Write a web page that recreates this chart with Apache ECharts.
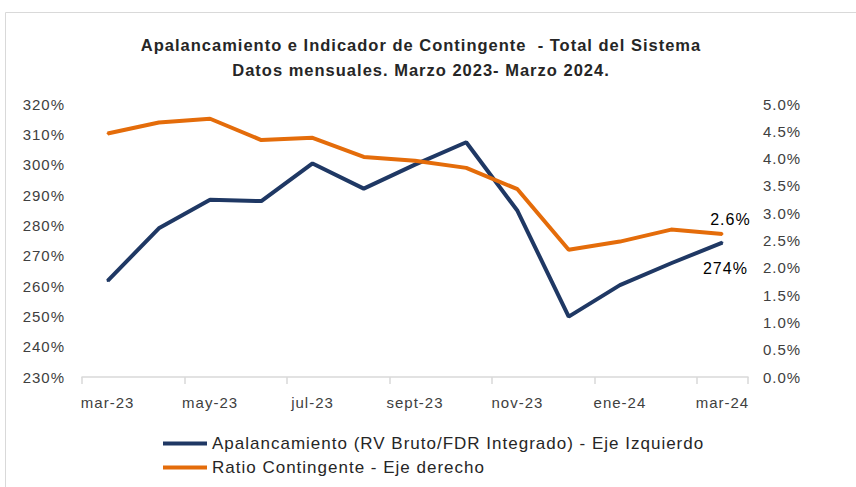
<!DOCTYPE html>
<html>
<head>
<meta charset="utf-8">
<script src="https://cdn.jsdelivr.net/npm/echarts@6/dist/echarts.min.js"></script>
<style>
html,body{margin:0;padding:0;background:#fff;}
#chart{width:856px;height:487px;}
#chart text{letter-spacing:1px;}
</style>
</head>
<body>
<div id="chart"></div>
<script>
const categories = ["mar-23","abr-23","may-23","jun-23","jul-23","ago-23","sept-23","oct-23","nov-23","dic-23","ene-24","feb-24","mar-24"];
const leverage = [261.7,279.0,288.4,288.0,300.4,292.1,300.0,307.4,284.8,249.9,260.3,267.5,274.3];
const contingent = [4.46,4.66,4.73,4.34,4.38,4.03,3.96,3.83,3.44,2.33,2.48,2.70,2.62];
const leftAxisRange = [230, 320, 10];
const rightAxisRange = [0, 5, 0.5];
const seriesNames = ["Apalancamiento (RV Bruto/FDR Integrado) - Eje Izquierdo","Ratio Contingente - Eje derecho"];
const titleLines = ["Apalancamiento e Indicador de Contingente  - Total del Sistema","Datos mensuales. Marzo 2023- Marzo 2024."];

const FONT = "Liberation Sans";
const chart = echarts.init(document.getElementById('chart'), null, {renderer:'svg'});
const lastIdx = categories.length - 1;

const levData = leverage.map((v,i)=> i===lastIdx ? {value:v,label:{show:true,position:'bottom',offset:[3,12],formatter:p=>Math.round(p.value)+'%',fontSize:16,color:'#000',fontFamily:FONT}} : v);
const conData = contingent.map((v,i)=> i===lastIdx ? {value:v,label:{show:true,position:'top',offset:[8,0],formatter:p=>p.value.toFixed(1)+'%',fontSize:16,color:'#000',fontFamily:FONT}} : v);

chart.setOption({
  animation:false,
  textStyle:{fontFamily:FONT},
  graphic:[
    {type:'rect',shape:{x:5.5,y:12.5,width:900,height:600},style:{fill:'none',stroke:'#d9d9d9',lineWidth:1}},
    {type:'text',x:421,y:45,style:{text:titleLines[0],align:'center',verticalAlign:'middle',font:'bold 16.5px "Liberation Sans"',fill:'#262626'}},
    {type:'text',x:421,y:70,style:{text:titleLines[1],align:'center',verticalAlign:'middle',font:'bold 16.5px "Liberation Sans"',fill:'#262626'}}
  ],
  grid:{left:82,right:108,top:104,bottom:110,containLabel:false},
  legend:{
    orient:'vertical',left:158,top:430,itemWidth:44,itemHeight:4,itemGap:7,icon:'rect',
    textStyle:{fontSize:17,color:'#262626',fontFamily:FONT},
    data:seriesNames
  },
  xAxis:{
    type:'category',data:categories,boundaryGap:true,
    axisLine:{lineStyle:{color:'#d9d9d9',width:1.5}},
    axisTick:{show:true,interval:1,length:7,lineStyle:{color:'#d9d9d9',width:1.5}},
    axisLabel:{interval:1,margin:18,fontSize:15,color:'#404040',fontFamily:FONT},
    splitLine:{show:false}
  },
  yAxis:[
    {type:'value',position:'left',min:leftAxisRange[0],max:leftAxisRange[1],interval:leftAxisRange[2],
     axisLine:{show:false},axisTick:{show:false},splitLine:{show:false},
     axisLabel:{formatter:'{value}%',margin:17,fontSize:15,color:'#404040',fontFamily:FONT}},
    {type:'value',position:'right',min:rightAxisRange[0],max:rightAxisRange[1],interval:rightAxisRange[2],
     axisLine:{show:false},axisTick:{show:false},splitLine:{show:false},
     axisLabel:{formatter:v=>v.toFixed(1)+'%',margin:15,fontSize:15,color:'#404040',fontFamily:FONT}}
  ],
  series:[
    {name:seriesNames[0],type:'line',yAxisIndex:0,data:levData,symbol:'circle',symbolSize:2,showSymbol:true,showAllSymbol:true,lineStyle:{width:4,color:'#1F3864'},itemStyle:{color:'#1F3864'}},
    {name:seriesNames[1],type:'line',yAxisIndex:1,data:conData,symbol:'circle',symbolSize:2,showSymbol:true,showAllSymbol:true,lineStyle:{width:4,color:'#E46C0A'},itemStyle:{color:'#E46C0A'}}
  ]
});
</script>
</body>
</html>
